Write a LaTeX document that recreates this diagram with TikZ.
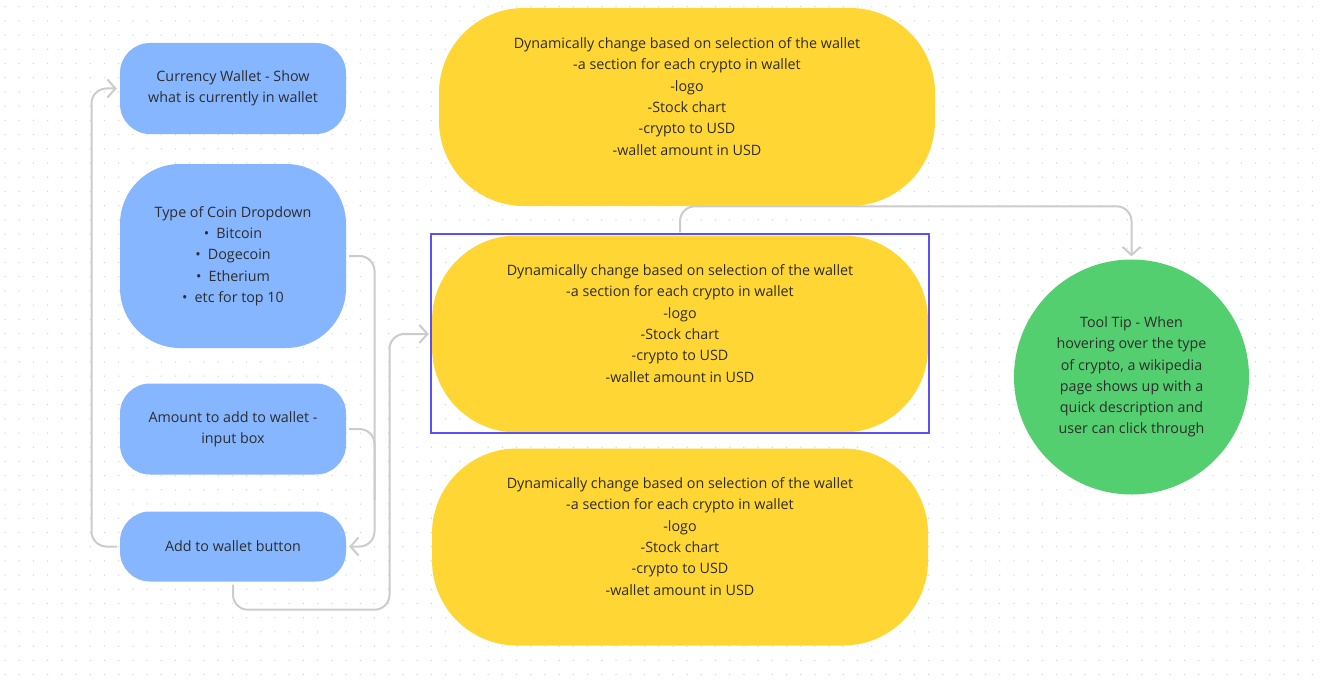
\documentclass[tikz,border=0pt]{standalone}
\usepackage{fontspec}
\setmainfont{Open Sans}
\usetikzlibrary{arrows.meta}
\definecolor{bluebox}{RGB}{134,182,255}
\definecolor{yellowbox}{RGB}{255,214,51}
\definecolor{greenbox}{RGB}{84,207,112}
\definecolor{txt}{RGB}{45,45,45}
\definecolor{linec}{RGB}{204,204,204}
\definecolor{dotc}{RGB}{215,215,215}
\definecolor{selc}{RGB}{90,80,250}
\tikzset{
  base/.style={inner sep=0pt, text=txt, align=center, font=\fontsize{14.3}{21.3}\selectfont},
  bluenode/.style={base, fill=bluebox, minimum width=226pt, rounded corners=30pt},
  yellownode/.style={base, fill=yellowbox, minimum width=496pt, minimum height=198pt, rounded corners=85pt},
  greennode/.style={base, circle, fill=greenbox, minimum size=235pt},
  selbox/.style={draw=selc, line width=2pt, minimum width=498pt, minimum height=199pt, inner sep=0pt},
  conn/.style={draw=linec, line width=2pt, rounded corners=15pt, shorten <=3pt, shorten >=3pt,
    -{Straight Barb[length=8pt,width=18pt]}},
  plainconn/.style={draw=linec, line width=2pt, rounded corners=15pt, shorten <=3pt},
}
\begin{document}
\begin{tikzpicture}[x=1pt,y=-1pt]
\useasboundingbox[fill=white] (0,0) rectangle (1321,682);
\foreach \i in {0,...,92}{
  \foreach \j in {0,...,47}{
    \fill[dotc] ({5+\i*14.21},{6.7+\j*14.21}) circle (0.75);
  }
}
% blue column
\node[bluenode, minimum height=91pt] (b1) at (233,88.5) {Currency Wallet - Show\\what is currently in wallet};
\node[bluenode, minimum height=184pt, rounded corners=60pt] (b2) at (233,256) {Type of Coin Dropdown\\\textbullet\enspace Bitcoin\\\textbullet\enspace Dogecoin\\\textbullet\enspace Etherium\\\textbullet\enspace etc for top 10};
\node[bluenode, minimum height=91pt] (b3) at (233,429) {Amount to add to wallet -\\input box};
\node[bluenode, minimum height=70pt] (b4) at (233,546.5) {Add to wallet button};
% yellow column
\node[yellownode] (y1) at (687,107) {Dynamically change based on selection of the wallet\\-a section for each crypto in wallet\\-logo\\-Stock chart\\-crypto to USD\\-wallet amount in USD\\\mbox{}};
\node[yellownode, minimum height=197pt] (y2) at (680,334) {Dynamically change based on selection of the wallet\\-a section for each crypto in wallet\\-logo\\-Stock chart\\-crypto to USD\\-wallet amount in USD\\\mbox{}};
\node[selbox] (sel) at (680,333.5) {};
\node[yellownode, minimum height=197pt] (y3) at (680,547) {Dynamically change based on selection of the wallet\\-a section for each crypto in wallet\\-logo\\-Stock chart\\-crypto to USD\\-wallet amount in USD\\\mbox{}};
% green
\node[greennode] (g) at (1131.5,377) {Tool Tip - When\\hovering over the type\\of crypto, a wikipedia\\page shows up with a\\quick description and\\user can click through};
% connectors
\draw[conn] (b4.west) -| (91.5,300) |- (b1.west);
\draw[conn] (b2.east) -| (374.5,400) |- (b4.east);
\draw[plainconn] (b3.east) -| (374.5,500);
\draw[conn] (b4.south) -- ++(0,28) -| (389.5,400) |- (y2.west);
\draw[conn] (y2.north) -- ++(0,-29) -| (g.north);
\end{tikzpicture}
\end{document}
